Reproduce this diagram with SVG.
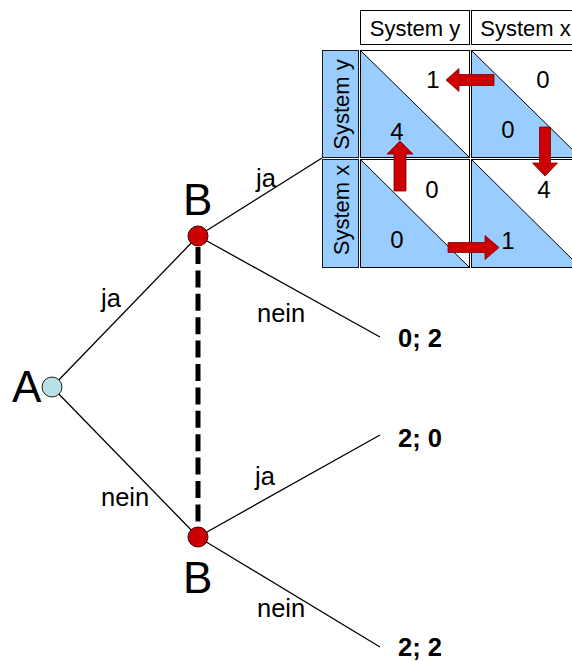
<svg xmlns="http://www.w3.org/2000/svg" width="572" height="661" viewBox="0 0 572 661">
<style>
text{font-family:"Liberation Sans",Arial,sans-serif;fill:#000}
.big{font-size:44px}
.lbl{font-size:25.5px}
.pay{font-size:25.5px;font-weight:bold}
.hdr{font-size:22px;text-anchor:middle}
.num{font-size:24px;text-anchor:middle}
.edge{stroke:#000;stroke-width:1.3;fill:none}
.cell{fill:#fff;stroke:#000;stroke-width:1}
.tri{fill:#99ccff;stroke:none}
.diag{stroke:#000;stroke-width:1;fill:none}
.side{fill:#99ccff;stroke:#1a1a1a;stroke-width:1}
.arr{fill:#cc0000;stroke:#7a0000;stroke-width:0.8}
</style>
<rect width="572" height="661" fill="#fff"/>
<g id="connectors">
<line class="edge" x1="52" y1="387" x2="198" y2="236"/>
<line class="edge" x1="52" y1="387" x2="198" y2="537"/>
<line class="edge" x1="198" y1="236" x2="322" y2="158"/>
<line class="edge" x1="198" y1="236" x2="380" y2="337"/>
<line class="edge" x1="198" y1="537" x2="380" y2="435"/>
<line class="edge" x1="198" y1="537" x2="380" y2="647"/>
<line x1="198" y1="247" x2="198" y2="527" stroke="#000" stroke-width="5" stroke-dasharray="17 6.4"/>
<text class="lbl" x="101" y="307">ja</text>
<text class="lbl" x="256" y="187">ja</text>
<text class="lbl" x="257" y="322">nein</text>
<text class="lbl" x="101" y="506">nein</text>
<text class="lbl" x="255" y="485">ja</text>
<text class="lbl" x="257" y="617">nein</text>
</g>
<g id="nodeA">
<circle cx="52" cy="387" r="10" fill="#b7dfe6" stroke="#222" stroke-width="1"/>
<text class="big" x="12" y="402">A</text>
</g>
<g id="nodeB1">
<circle cx="198" cy="236" r="10" fill="#cc0000" stroke="#400" stroke-width="1"/>
<text class="big" x="183" y="215">B</text>
</g>
<g id="nodeB2">
<circle cx="198" cy="537" r="10" fill="#cc0000" stroke="#400" stroke-width="1"/>
<text class="big" x="183" y="593">B</text>
</g>
<g id="outcome1"><text class="pay" x="398" y="347">0; 2</text></g>
<g id="outcome2"><text class="pay" x="398" y="447">2; 0</text></g>
<g id="outcome3"><text class="pay" x="398" y="656">2; 2</text></g>
<g id="matrix">
<rect class="cell" x="360.5" y="10.5" width="109" height="34"/>
<text class="hdr" x="415" y="36">System y</text>
<rect class="cell" x="471.5" y="10.5" width="109" height="34"/>
<text class="hdr" x="525.5" y="36">System x</text>
<rect class="side" x="322.5" y="50.5" width="36" height="107"/>
<text class="hdr" transform="translate(349,104.5) rotate(-90)">System y</text>
<rect class="side" x="322.5" y="159.5" width="36" height="108"/>
<text class="hdr" transform="translate(349,210) rotate(-90)">System x</text>
<g id="cell00">
<rect class="cell" x="360.5" y="50.5" width="109" height="107"/>
<path class="tri" d="M360.5,50.5 L360.5,157.5 L469.5,157.5 Z"/>
<line class="diag" x1="360.5" y1="50.5" x2="469.5" y2="157.5"/>
<rect x="360.5" y="50.5" width="109" height="107" fill="none" stroke="#000"/>
<text class="num" x="433" y="88">1</text>
<text class="num" x="397" y="140">4</text>
</g>
<g id="cell01">
<rect class="cell" x="471.5" y="50.5" width="109" height="107"/>
<path class="tri" d="M471.5,50.5 L471.5,157.5 L580.5,157.5 Z"/>
<line class="diag" x1="471.5" y1="50.5" x2="580.5" y2="157.5"/>
<rect x="471.5" y="50.5" width="109" height="107" fill="none" stroke="#000"/>
<text class="num" x="543" y="88">0</text>
<text class="num" x="508" y="138">0</text>
</g>
<g id="cell10">
<rect class="cell" x="360.5" y="159.5" width="109" height="108"/>
<path class="tri" d="M360.5,159.5 L360.5,267.5 L469.5,267.5 Z"/>
<line class="diag" x1="360.5" y1="159.5" x2="469.5" y2="267.5"/>
<rect x="360.5" y="159.5" width="109" height="108" fill="none" stroke="#000"/>
<text class="num" x="432" y="198">0</text>
<text class="num" x="397" y="248">0</text>
</g>
<g id="cell11">
<rect class="cell" x="471.5" y="159.5" width="109" height="108"/>
<path class="tri" d="M471.5,159.5 L471.5,267.5 L580.5,267.5 Z"/>
<line class="diag" x1="471.5" y1="159.5" x2="580.5" y2="267.5"/>
<rect x="471.5" y="159.5" width="109" height="108" fill="none" stroke="#000"/>
<text class="num" x="544" y="198">4</text>
<text class="num" x="508" y="249">1</text>
</g>
<g id="arrows">
<polygon class="arr" points="446,80 459,68.5 459,74.5 494,74.5 494,85.5 459,85.5 459,91.5"/>
<polygon class="arr" points="539.5,127 550.5,127 550.5,163 557.5,163 545,176 532.5,163 539.5,163"/>
<polygon class="arr" points="400,141 413,154 406,154 406,191 394,191 394,154 387,154"/>
<polygon class="arr" points="448,242.5 485,242.5 485,235.5 499,247.5 485,259.5 485,252.5 448,252.5"/>
</g>
</g>
</svg>
